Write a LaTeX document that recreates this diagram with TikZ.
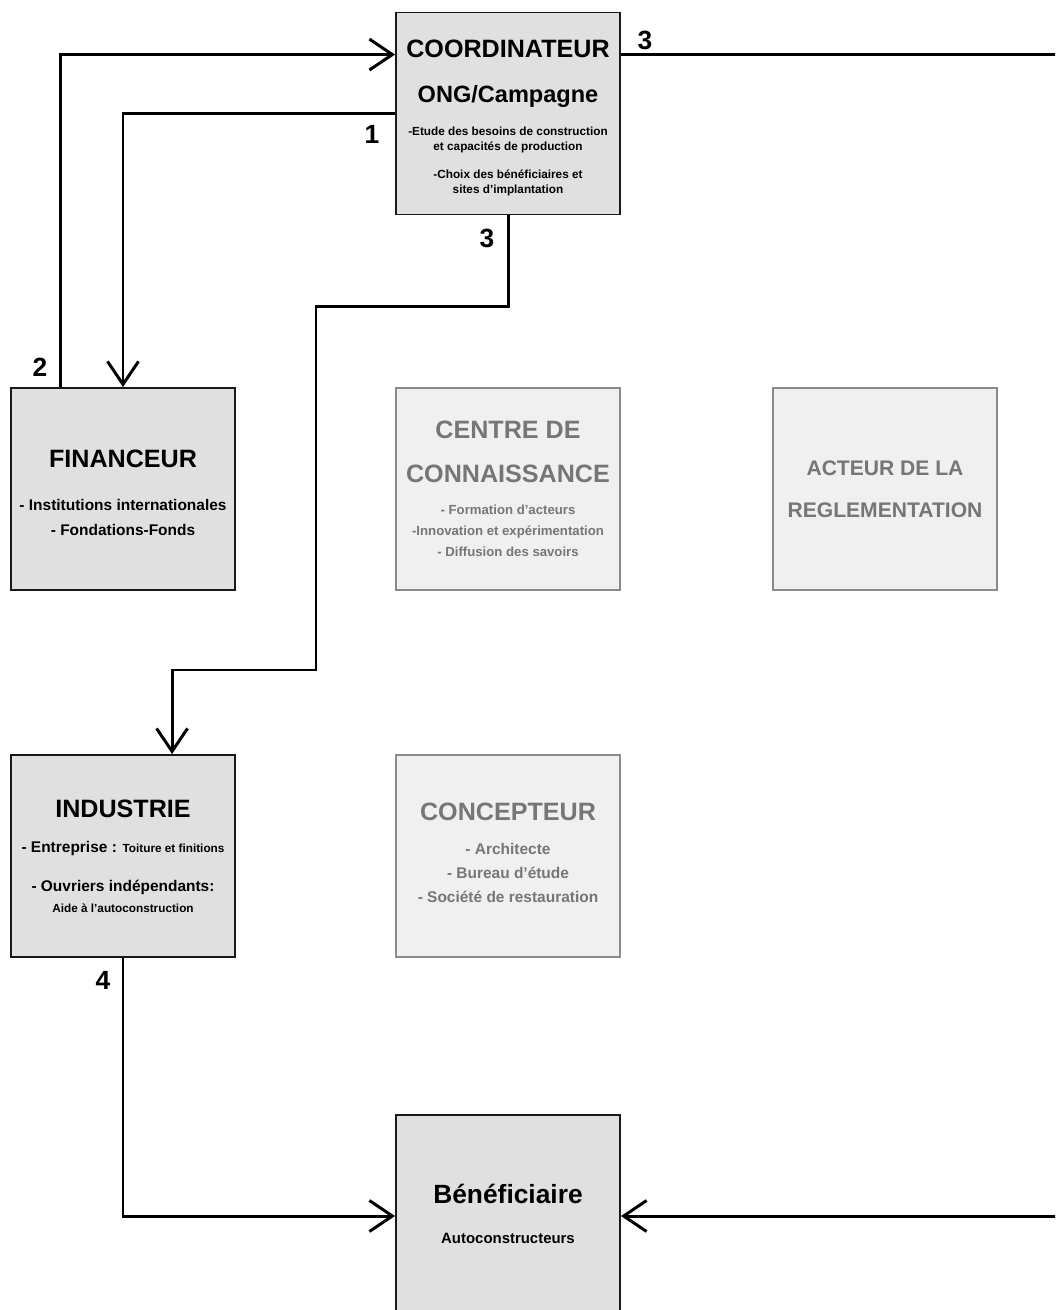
\documentclass[tikz,border=0pt]{standalone}
\usepackage{fontspec}
\setmainfont{Liberation Sans}
\usetikzlibrary{arrows.meta,calc}
\definecolor{darkfill}{HTML}{E0E0E0}
\definecolor{lightfill}{HTML}{F0F0F0}
\definecolor{lightline}{HTML}{8A8A8A}
\definecolor{lighttext}{HTML}{767676}
\newcommand{\boxfont}{\bfseries\fontsize{9}{0}\selectfont\lineskiplimit=-100pt\relax}
\newcommand{\bigtxt}{\fontsize{14.3}{0}\selectfont}
\newcommand{\midtxt}{\fontsize{13.4}{0}\selectfont}
\newcommand{\smalltxt}{\fontsize{8.8}{0}\selectfont}
\newcommand{\tinytxt}{\fontsize{6.7}{0}\selectfont}
\newcommand{\tallstrut}[1]{\rule{0pt}{#1}}
\newcommand{\deepstrut}[1]{\rule[-#1]{0pt}{#1}}
\begin{document}
\begin{tikzpicture}[x=0.02cm, y=-0.02cm,
	actor/.style={draw=black!90, fill=darkfill, line width=1.1pt, minimum width=4.48cm, minimum height=4.04cm, inner sep=0pt, align=center, font=\boxfont},
	faded/.style={actor, draw=lightline, fill=lightfill, text=lighttext},
	link/.style={line width=1.7pt},
	tip/.style={-{Straight Barb[length=0.46cm, width=0.62cm]}},
	num/.style={font=\bfseries\fontsize{15}{0}\selectfont}]
	\clip (0,0) rectangle (1055,1310);
	\node[actor] (coord) at (508,113.5) {{\bigtxt\tallstrut{15pt}COORDINATEUR}\\[26pt]{\midtxt ONG/Campagne}\\[18.8pt]{\tinytxt -Etude des besoins de construction}\\[8.5pt]{\tinytxt et capacités de production}\\[15.6pt]{\tinytxt -Choix des bénéficiaires et}\\[8.8pt]{\tinytxt sites d’implantation}};
	\node[actor] (fin) at (123,489) {{\bigtxt\tallstrut{14.5pt}FINANCEUR}\\[24.5pt]{\smalltxt - Institutions internationales}\\[14.2pt]{\smalltxt - Fondations-Fonds}};
	\node[faded] (centre) at (508,489) {{\bigtxt CENTRE DE}\\[25pt]{\bigtxt CONNAISSANCE}\\[18.2pt]{\fontsize{7.5}{0}\selectfont - Formation d’acteurs}\\[12pt]{\fontsize{7.5}{0}\selectfont -Innovation et expérimentation}\\[12pt]{\fontsize{7.5}{0}\selectfont - Diffusion des savoirs}};
	\node[faded] (acteur) at (885,489) {{\fontsize{12}{0}\selectfont ACTEUR DE LA}\\[24pt]{\fontsize{12}{0}\selectfont REGLEMENTATION}};
	\node[actor] (ind) at (123,856) {{\bigtxt INDUSTRIE}\\[20pt]{\smalltxt - Entreprise : {\tinytxt Toiture et finitions}}\\[22.2pt]{\smalltxt - Ouvriers indépendants:}\\[12pt]{\tinytxt Aide à l’autoconstruction}};
	\node[faded] (concep) at (508,856) {{\bigtxt CONCEPTEUR}\\[19.4pt]{\smalltxt - Architecte}\\[13.7pt]{\smalltxt - Bureau d’étude}\\[13.7pt]{\smalltxt - Société de restauration\deepstrut{4pt}}};
	\node[actor] (benef) at (508,1216) {{\fontsize{15}{0}\selectfont Bénéficiaire}\\[22.8pt]{\fontsize{8.5}{0}\selectfont Autoconstructeurs\deepstrut{2pt}}};
	\coordinate (edgetop) at (1065,56);
	\coordinate (edgebot) at (1065,1216);
	% liaisons
	\draw[link,tip] ($(fin.north west)+(50,0)$) |- ($(coord.north west)+(0,43)$);
	\draw[link,tip] ($(coord.north west)+(0,102)$) -| (fin.north);
	\draw[link,tip] (coord.south) -- ++(0,91) -| (316,670) -| ($(ind.north west)+(162,0)$);
	\draw[link] ($(coord.north east)+(0,43)$) coordinate (out3) -- (out3 -| edgetop);
	\draw[link,tip] (ind.south) |- (benef.west);
	\draw[link,tip] (edgebot) -- (benef.east);
	\node[num] (n1) at (372,134) {1};
	\node[num] (n2) at (40,367) {2};
	\node[num] (n3a) at (645,40) {3};
	\node[num] (n3b) at (487,238) {3};
	\node[num] (n4) at (103,980) {4};
\end{tikzpicture}
\end{document}
